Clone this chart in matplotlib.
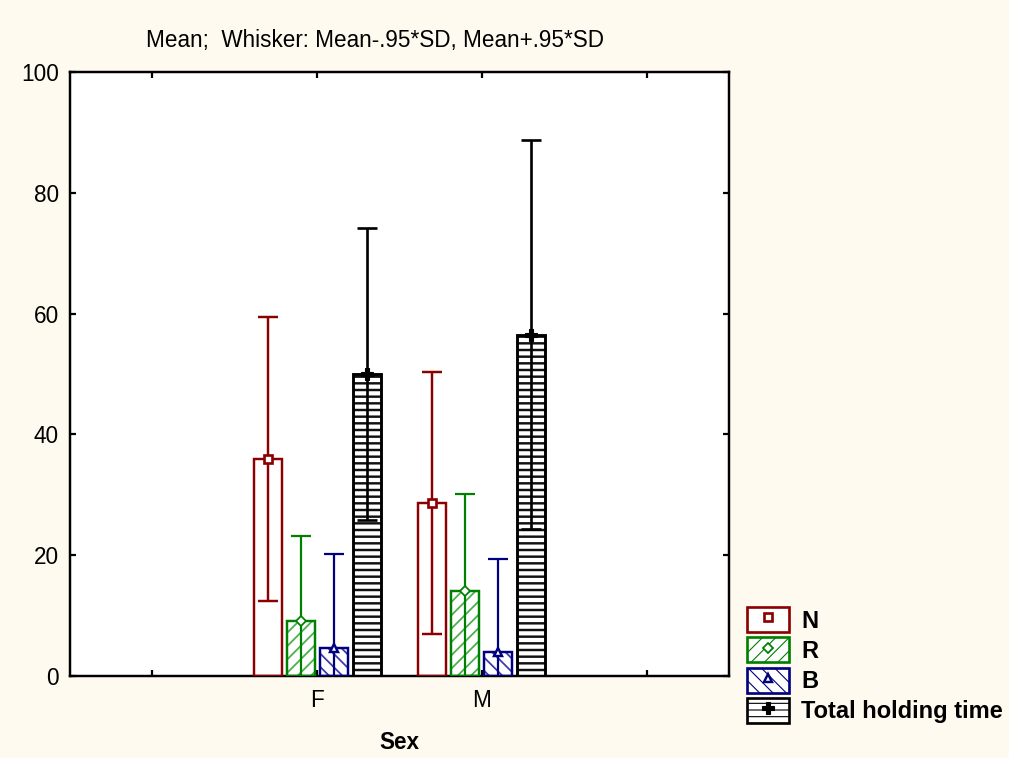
import matplotlib
matplotlib.use("Agg")
import matplotlib.pyplot as plt
from matplotlib.patches import Rectangle
from matplotlib.lines import Line2D
import numpy as np

# ---- data ----
categories = ["F", "M"]
series = ["N", "R", "B", "Total holding time"]
means = {
    "N": [36.0, 28.7],
    "R": [9.1, 14.1],
    "B": [4.6, 3.9],
    "Total holding time": [50.0, 56.5],
}
# half-width of whisker (0.95*SD)
half_sd = {
    "N": [23.5, 21.7],
    "R": [14.0, 16.1],
    "B": [15.6, 15.5],
    "Total holding time": [24.2, 32.2],
}
tick_positions = [1, 2, 3, 4]
tick_labels = ["", "F", "M", ""]
y_ticks = [0, 20, 40, 60, 80, 100]
title = "Mean;  Whisker: Mean-.95*SD, Mean+.95*SD"
xlabel = "Sex"

# ---- styles ----
DPI = 80
BG = "#FFFAEF"
styles = {
    "N": dict(edge="#8B0000", hatchcol="#8B0000", hatch=None, marker="s",
              mfc="white", mec="#8B0000", ms=8, mew=2.4, elw=2.2, hlw=1.0),
    "R": dict(edge="#008000", hatchcol="#4CAF4C", hatch="//", marker="D",
              mfc="white", mec="#008000", ms=6, mew=1.6, elw=2.0, hlw=1.6),
    "B": dict(edge="#000080", hatchcol="#3C3CA8", hatch="\\\\", marker="^",
              mfc="white", mec="#000080", ms=8, mew=2.2, elw=2.0, hlw=1.6),
    "Total holding time": dict(edge="#000000", hatchcol="#111111", hatch="--",
              marker="P", mfc="black", mec="black", ms=10, mew=1.0, elw=2.4, hlw=2.2),
}
offsets = [-0.3, -0.1, 0.1, 0.3]
bar_w = 0.17

plt.rcParams["font.family"] = ["Liberation Sans", "DejaVu Sans"]
FS = 20.3
LFS = 21.3

fig = plt.figure(figsize=(1009 / DPI, 758 / DPI), dpi=DPI, facecolor=BG)
ax = fig.add_axes([70 / 1009, 1 - 676 / 758, (729 - 70) / 1009, (676 - 72) / 758])
ax.set_facecolor("white")

x_cat = np.array([2, 3])
handles = []
for s, off in zip(series, offsets):
    st = styles[s]
    xs = x_cat + off
    with plt.rc_context({"hatch.linewidth": st["hlw"]}):
        hb = ax.bar(xs, means[s], width=bar_w, color="white", edgecolor=st["hatchcol"],
                    hatch=st["hatch"], linewidth=0, zorder=2)
        for p in hb:
            try:
                p.set_hatch_linewidth(st["hlw"])
            except Exception:
                pass
    ax.bar(xs, means[s], width=bar_w, fill=False, edgecolor=st["edge"],
           linewidth=2.2 if s != "Total holding time" else 2.6, zorder=3)
    ax.errorbar(xs, means[s], yerr=half_sd[s], fmt="none", ecolor=st["edge"],
                elinewidth=st["elw"], capsize=9, capthick=st["elw"], zorder=4)
    ax.plot(xs, means[s], linestyle="none", marker=st["marker"], markersize=st["ms"],
            markerfacecolor=st["mfc"], markeredgecolor=st["mec"],
            markeredgewidth=st["mew"], zorder=5)
    # legend handle
    with plt.rc_context({"hatch.linewidth": st["hlw"]}):
        rect = Rectangle((0, 0), 1, 1, facecolor="white", edgecolor=st["edge"],
                         hatch=st["hatch"], linewidth=2.4)
        try:
            rect.set_hatch_linewidth(st["hlw"])
        except Exception:
            pass
    mk = Line2D([], [], linestyle="none", marker=st["marker"], markersize=st["ms"],
                markerfacecolor=st["mfc"], markeredgecolor=st["mec"],
                markeredgewidth=st["mew"])
    handles.append((rect, mk))

ax.set_xlim(0.5, 4.5)
ax.set_ylim(0, 100)
ax.set_xticks(tick_positions)
ax.set_xticklabels(tick_labels)
ax.set_yticks(y_ticks)
ax.set_yticklabels([str(v) for v in y_ticks])
ax.tick_params(direction="in", length=5, width=2, top=True, right=True,
               labelsize=FS, pad=10, colors="black")
ax.tick_params(axis="x", pad=12)
for sp in ax.spines.values():
    sp.set_linewidth(2.2)
    sp.set_color("black")

ax.set_xlabel(xlabel, fontsize=FS, fontweight="bold", labelpad=17)
fig.text(375 / 1009, 1 - 40 / 758, title, fontsize=FS, ha="center", va="center")

leg = fig.legend(handles, series, loc="lower left",
                 bbox_to_anchor=(742 / 1009, 1 - 728 / 758),
                 frameon=False, handlelength=1.8, handleheight=1.25,
                 handletextpad=0.5, labelspacing=0.2, borderpad=0.2,
                 borderaxespad=0.0,
                 prop={"weight": "bold", "size": LFS})

fig.savefig("out.png", dpi=DPI, facecolor=BG)
